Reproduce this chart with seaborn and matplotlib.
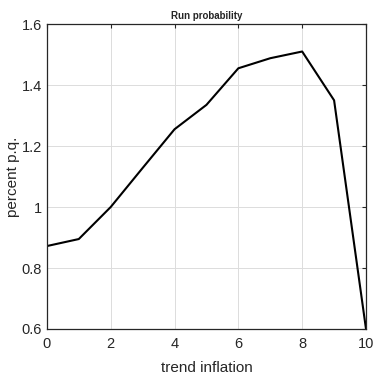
import matplotlib
matplotlib.use('Agg')
import matplotlib.pyplot as plt
import seaborn as sns
import pandas as pd

trend_inflation = [0, 1, 2, 3, 4, 5, 6, 7, 8, 9, 10]
run_prob = [0.872, 0.895, 1.0, 1.128, 1.255, 1.335, 1.455, 1.488, 1.51, 1.35, 0.6]

sns.set_style('white')
plt.rcParams['font.family'] = ['Liberation Sans', 'DejaVu Sans']

df = pd.DataFrame({'x': trend_inflation, 'y': run_prob})

fig = plt.figure(figsize=(3.75, 3.76), dpi=100)
ax = fig.add_axes([0.125, 0.125, 0.851, 0.811])
sns.lineplot(data=df, x='x', y='y', color='black', linewidth=1.5, ax=ax)

ax.set_xlim(0, 10)
ax.set_ylim(0.6, 1.6)
ax.set_xticks([0, 2, 4, 6, 8, 10])
ax.set_yticks([0.6, 0.8, 1.0, 1.2, 1.4, 1.6])
ax.set_yticklabels(['0.6', '0.8', '1', '1.2', '1.4', '1.6'])
ax.grid(True, color='#dcdcdc', linewidth=0.7)
ax.tick_params(direction='in', top=True, right=True, length=3, labelsize=10.5,
               colors='#262626', width=0.8)
ax.tick_params(axis='x', pad=6)
for s in ax.spines.values():
    s.set_color('#262626')
    s.set_linewidth(0.9)
ax.set_xlabel('trend inflation', fontsize=11, color='#262626', labelpad=7)
ax.set_ylabel('percent p.q.', fontsize=11, color='#262626')
ax.yaxis.set_label_coords(-0.085, 0.5)
ax.set_title('Run probability', fontsize=7, fontweight='bold', pad=4)

fig.savefig('out.png', dpi=100)
